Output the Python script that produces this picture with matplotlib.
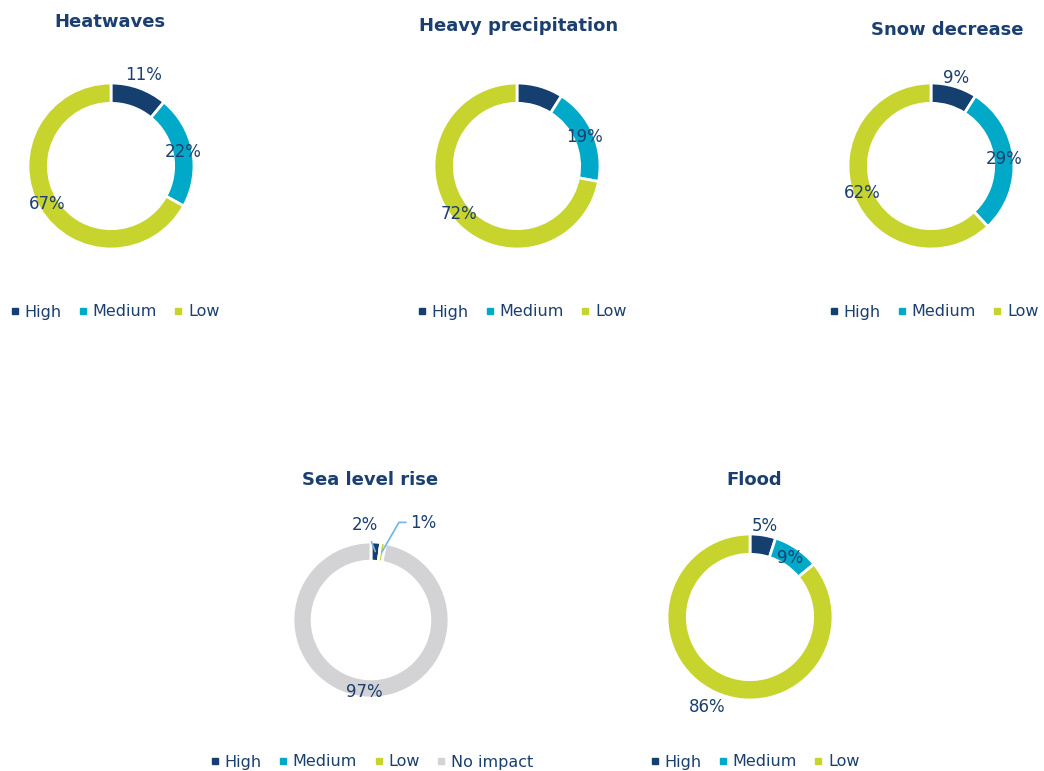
import matplotlib
matplotlib.use("Agg")
import matplotlib.pyplot as plt
from matplotlib.lines import Line2D
import numpy as np

plt.rcParams['font.family'] = ['DejaVu Sans']

# ---- data ----
titles = ["Heatwaves", "Heavy precipitation", "Snow decrease", "Sea level rise", "Flood"]
cats3 = ["High", "Medium", "Low"]
cats4 = ["High", "Medium", "Low", "No impact"]
heatwaves = [11, 22, 67]
heavy_precip = [9, 19, 72]
snow_decrease = [9, 29, 62]
sea_level = [2, 0, 1, 97]
flood = [5, 9, 86]
# which labels are shown (Heavy precipitation High label hidden, Sea level Medium 0 hidden)
show_heatwaves = [True, True, True]
show_heavy = [False, True, True]
show_snow = [True, True, True]
show_sea = [True, False, True, True]
show_flood = [True, True, True]

# ---- style ----
W, H = 1044, 771
NAVY = "#153F6F"
MED = "#00A9C8"
LOW = "#C8D42E"
GREY = "#D3D3D5"
TXT = "#1B3F6E"
LEAD = "#6FB5E3"
colors3 = [NAVY, MED, LOW]
colors4 = [NAVY, MED, LOW, GREY]

fig = plt.figure(figsize=(W / 100, H / 100), dpi=100)
L = 1.45  # axis half-extent in radius units


def donut(cx, cy, r, values, colors, show, rfac):
    s = 2 * r * L
    ax = fig.add_axes([(cx - s / 2) / W, 1 - (cy + s / 2) / H, s / W, s / H])
    wedges, _ = ax.pie(values, colors=colors, startangle=90, counterclock=False,
                       radius=1, wedgeprops=dict(width=0.245, edgecolor="white", linewidth=2.0))
    ax.set_xlim(-L, L)
    ax.set_ylim(-L, L)
    ax.set_aspect("equal")
    ax.axis("off")
    mids = []
    for w in wedges:
        mids.append(np.deg2rad((w.theta1 + w.theta2) / 2))
    for i, (v, sh, m) in enumerate(zip(values, show, mids)):
        if sh and rfac[i] is not None:
            ax.text(rfac[i] * np.cos(m), rfac[i] * np.sin(m), f"{v}%", ha="center", va="center",
                    fontsize=12, color=TXT)
    return ax, mids


def legend(xc, yc, labels, colors):
    handles = [Line2D([], [], marker="s", linestyle="none", markersize=5,
                      markerfacecolor=c, markeredgecolor=c) for c in colors]
    fig.legend(handles, labels, loc="center", bbox_to_anchor=(xc / W, 1 - yc / H),
               ncol=len(labels), frameon=False, fontsize=11.5, handlelength=0.5,
               handletextpad=0.35, columnspacing=1.1, labelcolor=TXT,
               borderpad=0, borderaxespad=0)


def title(x, y, t):
    fig.text(x / W, 1 - y / H, t, ha="center", va="center", fontsize=13,
             fontweight="bold", color=TXT)


# Heatwaves
donut(111, 166, 83, heatwaves, colors3, show_heatwaves, [1.16, 0.88, 0.9])
title(110, 22, titles[0])
legend(115, 312, cats3, colors3)

# Heavy precipitation
donut(517, 166, 83, heavy_precip, colors3, show_heavy, [0.88, 0.88, 0.9])
title(519, 26, titles[1])
legend(522, 312, cats3, colors3)

# Snow decrease
donut(931, 166, 83, snow_decrease, colors3, show_snow, [1.1, 0.88, 0.89])
title(947, 30, titles[2])
legend(934, 312, cats3, colors3)

# Sea level rise
ax, mids = donut(371, 620, 78, sea_level, colors4, show_sea, [None, None, None, 0.93])
ax.annotate(f"{sea_level[0]}%", xy=(0.88 * np.cos(mids[0]), 0.88 * np.sin(mids[0])),
            xytext=(-0.08, 1.22), ha="center", va="center", fontsize=12, color=TXT,
            arrowprops=dict(arrowstyle="-", color=LEAD, lw=1.2, shrinkA=4, shrinkB=0))
ax.annotate(f"{sea_level[2]}%", xy=(0.88 * np.cos(mids[2]), 0.88 * np.sin(mids[2])),
            xytext=(0.5, 1.24), ha="left", va="center", fontsize=12, color=TXT,
            arrowprops=dict(arrowstyle="-", color=LEAD, lw=1.2, shrinkA=1, shrinkB=0,
                            relpos=(0, 0.55),
                            connectionstyle="angle,angleA=0,angleB=60,rad=0"))
title(370, 480, titles[3])
legend(372, 762, cats4, colors4)

# Flood
donut(750, 617, 83, flood, colors3, show_flood, [1.11, 0.86, 1.2])
title(754, 480, titles[4])
legend(755, 762, cats3, colors3)

fig.savefig("out.png", dpi=100)
